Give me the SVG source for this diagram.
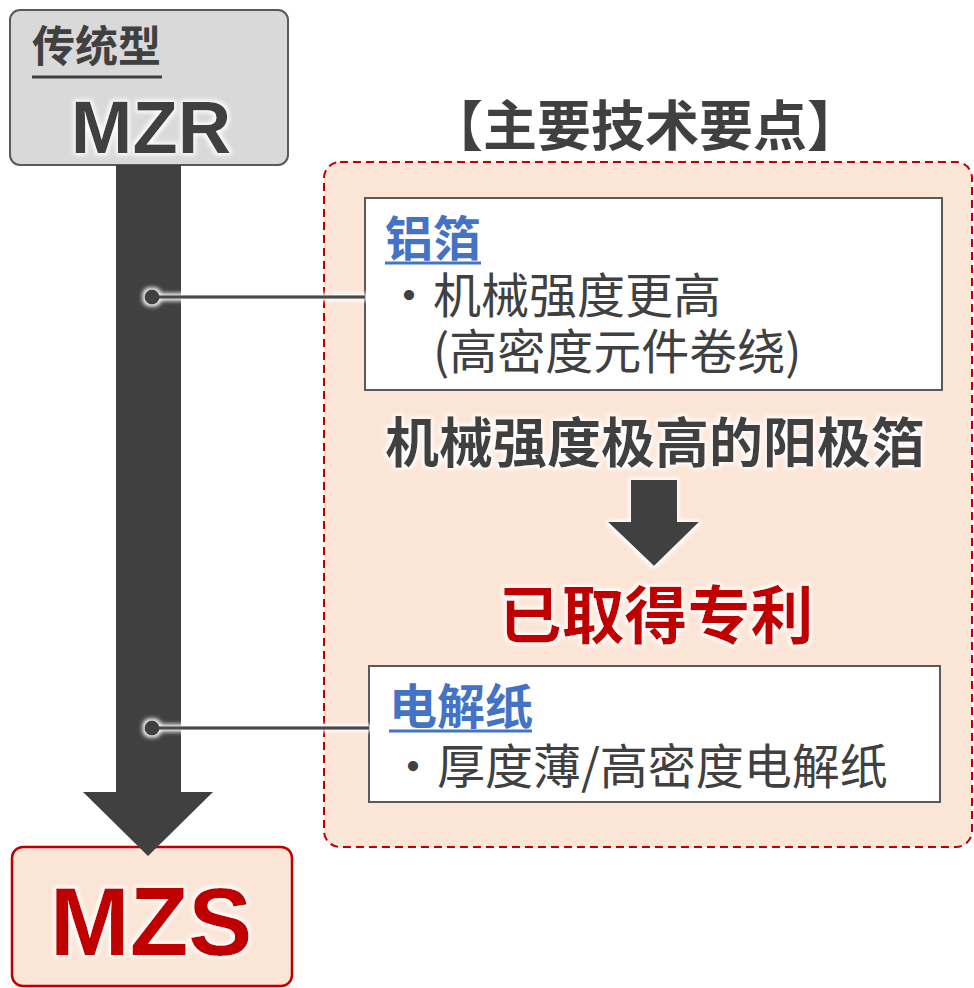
<svg xmlns="http://www.w3.org/2000/svg" width="974" height="988" viewBox="0 0 974 988">
<defs>
<filter id="glow" x="-20%" y="-20%" width="140%" height="140%">
<feMorphology in="SourceAlpha" operator="dilate" radius="2" result="d"/>
<feGaussianBlur in="d" stdDeviation="2" result="b"/>
<feFlood flood-color="#ffffff"/>
<feComposite in2="b" operator="in" result="g"/>
<feMerge><feMergeNode in="g"/><feMergeNode in="SourceGraphic"/></feMerge>
</filter>
<style>
.cjk{font-family:"Noto Sans CJK SC","Noto Sans",sans-serif;}
.lat{font-family:"Liberation Sans","Noto Sans",sans-serif;font-weight:bold;}
.dark{fill:#404040;}
.blue{fill:#4472c4;}
.red{fill:#c00000;}
.bold{font-weight:bold;}
.card{fill:#ffffff;stroke:#595959;stroke-width:2;}
.link{stroke:#4a4a4a;stroke-width:3.5;fill:none;}
.dot{fill:#404040;}
.arrow{fill:#404040;}
</style>
</defs>

<g id="node-mzr">
<rect x="10" y="10" width="278" height="155" rx="10" fill="#d9d9d9" stroke="#595959" stroke-width="2"/>
<text x="32" y="62" class="cjk dark bold" font-size="43">传统型</text>
<rect x="32" y="75.5" width="130" height="3" fill="#404040"/>
<text x="151" y="153" class="lat dark" font-size="74" text-anchor="middle" filter="url(#glow)">MZR</text>
</g>

<g id="node-mzs">
<rect x="12" y="847" width="280" height="139" rx="11" fill="#fbe5d6" stroke="#c00000" stroke-width="2.5"/>
<text x="151" y="955" class="lat red" font-size="96" text-anchor="middle" filter="url(#glow)">MZS</text>
</g>

<g id="node-points">
<text x="645" y="146" class="cjk dark bold" font-size="54" text-anchor="middle">【主要技术要点】</text>
<rect x="324" y="162" width="648" height="685" rx="16" fill="#fbe5d6" stroke="#c00000" stroke-width="2" stroke-dasharray="8 5"/>
<text x="655" y="463" class="cjk dark bold" font-size="54" text-anchor="middle" filter="url(#glow)">机械强度极高的阳极箔</text>
<text x="656" y="638" class="cjk red bold" font-size="63" text-anchor="middle" filter="url(#glow)">已取得专利</text>
</g>

<g id="node-foil">
<rect x="365" y="198" width="577" height="192" class="card"/>
<rect x="385" y="261.5" width="96" height="3" fill="#4472c4"/>
<text class="cjk" font-size="48"><tspan x="385" y="256" class="blue bold">铝箔</tspan><tspan x="385" y="313" class="dark">・机械强度更高</tspan><tspan x="433" y="369" class="dark">(高密度元件卷绕)</tspan></text>
</g>

<g id="node-paper">
<rect x="369" y="666" width="571" height="136" class="card"/>
<rect x="389" y="729.5" width="143" height="3" fill="#4472c4"/>
<text class="cjk" font-size="48"><tspan x="389" y="724" class="blue bold">电解纸</tspan><tspan x="389" y="784" class="dark">・厚度薄/高密度电解纸</tspan></text>
</g>

<g id="connectors">
<polygon class="arrow" points="116,165 181,165 181,792 213,792 148,856 83,792 116,792"/>
<g filter="url(#glow)">
<line x1="152" y1="297" x2="365" y2="297" class="link"/>
<circle cx="152" cy="297" r="7.5" class="dot"/>
<line x1="152" y1="728" x2="369" y2="728" class="link"/>
<circle cx="152" cy="728" r="7.5" class="dot"/>
</g>
<polygon class="arrow" filter="url(#glow)" points="631,480 677,480 677,522 699,522 654,566 608,522 631,522"/>
</g>
</svg>
